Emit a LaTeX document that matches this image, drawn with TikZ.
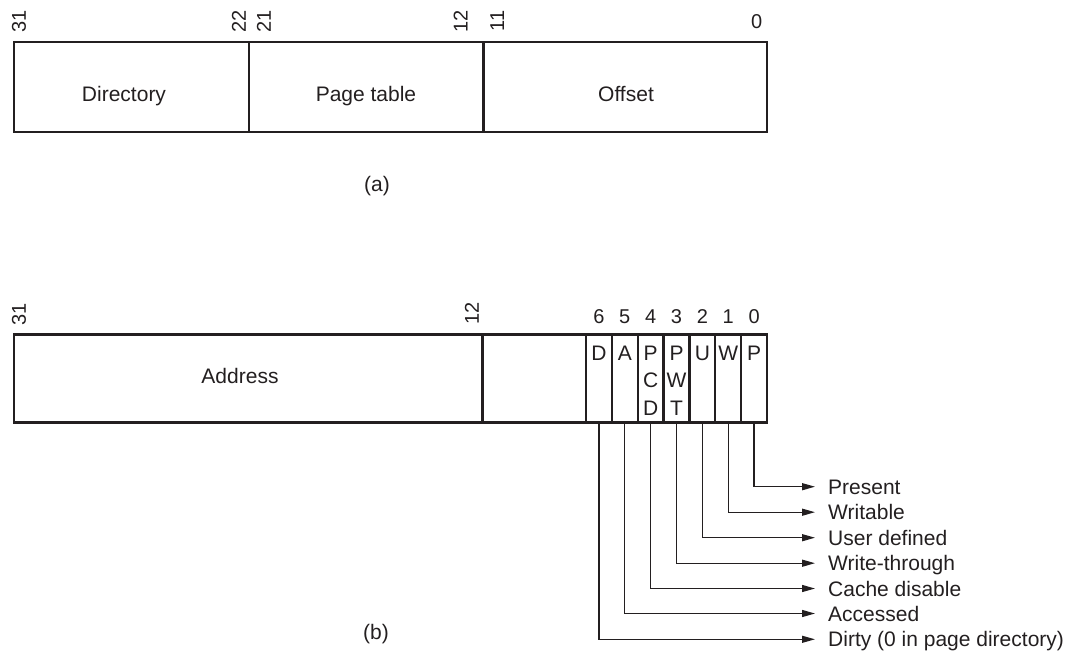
\documentclass[tikz,border=0pt]{standalone}
\usepackage{fontspec}
\setmainfont{Liberation Sans}
\usetikzlibrary{arrows.meta}
\definecolor{ink}{HTML}{231F20}
\begin{document}
\begin{tikzpicture}[x=1pt,y=-1pt,
  every node/.style={font=\fontsize{21}{24}\selectfont, text=ink},
  numf/.style={font=\fontsize{20}{24}\selectfont},
  field/.style={draw=ink, line width=2.2pt, inner sep=0pt},
  cell/.style={field, minimum width=25.857pt, minimum height=88pt},
  vnum/.style={numf, rotate=90, inner sep=0pt},
  desc/.style={anchor=west, inner xsep=13pt, inner ysep=0pt, text height=15pt, text depth=0pt},
  arr/.style={draw=ink, line width=1.3pt, -{Triangle[length=13pt,width=7pt]}}]
\useasboundingbox (0,0) rectangle (1079,651);

% ---------- (a) ----------
\node[field, minimum width=235pt, minimum height=90pt] (dir) at (131.5,87) {};
\node[field, minimum width=234.5pt, minimum height=90pt] (ptab) at (366.25,87) {};
\node[field, minimum width=283.5pt, minimum height=90pt] (off) at (625.25,87) {};
\node[anchor=base] (tdir) at (124,101) {Directory};
\node[anchor=base] (tptab) at (366,101) {Page table};
\node[anchor=base] (toff) at (626,101) {Offset};
\node[vnum] (a31) at (19,21) {31};
\node[vnum] (a22) at (239,21) {22};
\node[vnum] (a21) at (264,21) {21};
\node[vnum] (a12) at (460.7,21) {12};
\node[vnum] (a11) at (497.3,21) {11};
\node[numf] (a0) at (756.7,22) {0};
\node (capa) at (377,186) {(a)};

% ---------- (b) ----------
\node[field, minimum width=468.5pt, minimum height=88pt] (addr) at (248.25,378.5) {};
\node[field, minimum width=103.5pt, minimum height=88pt] (rsv) at (534.25,378.5) {};
\node[anchor=base] (taddr) at (240,383) {Address};
\node[vnum] (b31) at (19,314) {31};
\node[vnum] (b12) at (472,313) {12};

\foreach \k/\b in {0/6,1/5,2/4,3/3,4/2,5/1,6/0}{
  \node[cell] (c\b) at ({586+25.857*(\k+0.5)},378.5) {};
  \node[numf] (n\b) at ({586+25.857*(\k+0.5)},317) {\b};
}
\node (l6) at (c6 |- 0,353) {D};
\node (l5) at (c5 |- 0,353) {A};
\node (l4a) at (c4 |- 0,353) {P};
\node (l4b) at (c4 |- 0,380.5) {C};
\node (l4c) at (c4 |- 0,408) {D};
\node (l3a) at (c3 |- 0,353) {P};
\node (l3b) at (c3 |- 0,380.5) {W};
\node (l3c) at (c3 |- 0,408) {T};
\node (l2) at (c2 |- 0,353) {U};
\node (l1) at (c1 |- 0,353) {W};
\node (l0) at (c0 |- 0,353) {P};

\node[desc] (d0) at (815,486.7) {Present};
\node[desc] (d1) at (815,512.2) {Writable};
\node[desc] (d2) at (815,537.7) {User defined};
\node[desc] (d3) at (815,563.2) {Write-through};
\node[desc] (d4) at (815,588.5) {Cache disable};
\node[desc] (d5) at (815,613.5) {Accessed};
\node[desc] (d6) at (815,639.3) {Dirty (0 in page directory)};

\foreach \b in {0,...,6}{
  \draw[arr] (c\b.south) |- (d\b.west);
}
\node (capb) at (376,634) {(b)};
\end{tikzpicture}
\end{document}
